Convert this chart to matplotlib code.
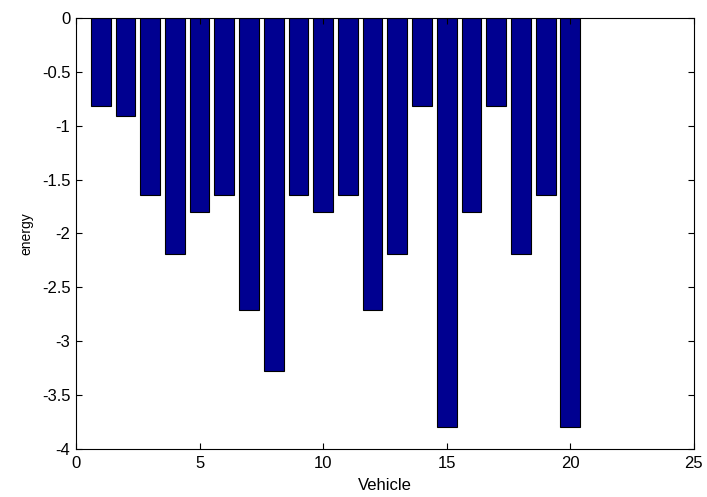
import numpy as np
import matplotlib.pyplot as plt

# data
vehicles = np.arange(1, 21)
energy = [-0.82, -0.91, -1.64, -2.19, -1.80, -1.64, -2.71, -3.28, -1.64, -1.80,
          -1.64, -2.71, -2.19, -0.82, -3.80, -1.80, -0.82, -2.19, -1.64, -3.80]

plt.rcParams['font.family'] = ['Liberation Sans', 'DejaVu Sans']

fig = plt.figure(figsize=(7.07, 4.97), dpi=100)
ax = fig.add_axes([0.1075, 0.0966, 0.874, 0.8672])

ax.bar(vehicles, energy, width=0.8, color='#000090', edgecolor='black', linewidth=0.8)

ax.set_xlim(0, 25)
ax.set_ylim(-4, 0)
ax.set_xticks(np.arange(0, 26, 5))
ax.set_yticks(np.arange(-4, 0.01, 0.5))
ax.set_yticklabels(['-4', '-3.5', '-3', '-2.5', '-2', '-1.5', '-1', '-0.5', '0'])
ax.tick_params(direction='in', top=True, right=True, labelsize=12, length=4)
ax.tick_params(axis='x', pad=5)
ax.tick_params(axis='y', pad=4)
ax.set_xlabel('Vehicle', fontsize=12, labelpad=5)
ax.set_ylabel('energy', fontsize=10, labelpad=6)

fig.savefig('out.png', dpi=100)
